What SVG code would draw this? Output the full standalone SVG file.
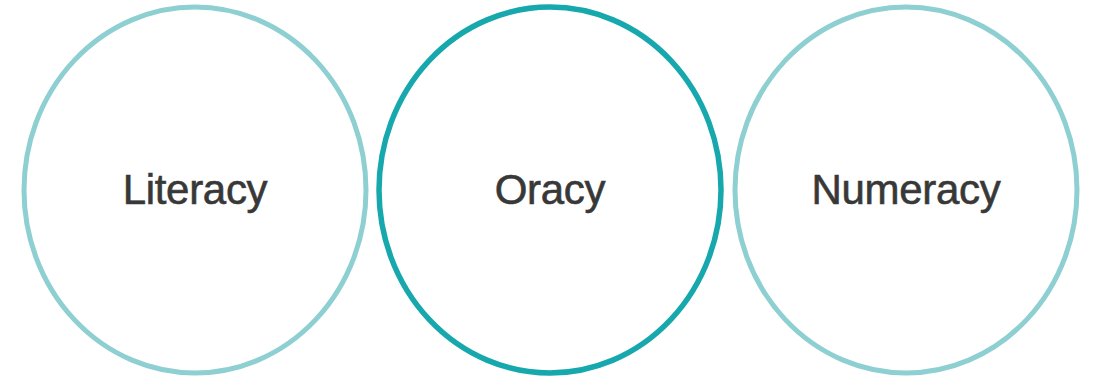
<svg xmlns="http://www.w3.org/2000/svg" width="1096" height="379" viewBox="0 0 1096 379">
<style>
.c{fill:#ffffff;stroke-width:5}
.light{stroke:#8ecfd2}
.dark{stroke:#16a8ad;stroke-width:5.5}
.t{font-family:"Liberation Sans",Arial,sans-serif;font-size:42px;fill:#383838;stroke:#383838;stroke-width:0.6;text-anchor:middle;letter-spacing:-0.3px}
</style>
<rect width="1096" height="379" fill="#ffffff"/>
<g id="literacy">
<ellipse class="c light" cx="195" cy="190" rx="171" ry="183"/>
<text class="t" x="195" y="204">Literacy</text>
</g>
<g id="oracy">
<ellipse class="c dark" cx="550" cy="190" rx="171" ry="183"/>
<text class="t" x="550" y="204">Oracy</text>
</g>
<g id="numeracy">
<ellipse class="c light" cx="906" cy="190" rx="171" ry="183"/>
<text class="t" x="906" y="204">Numeracy</text>
</g>
<g id="connectors"/>
</svg>
